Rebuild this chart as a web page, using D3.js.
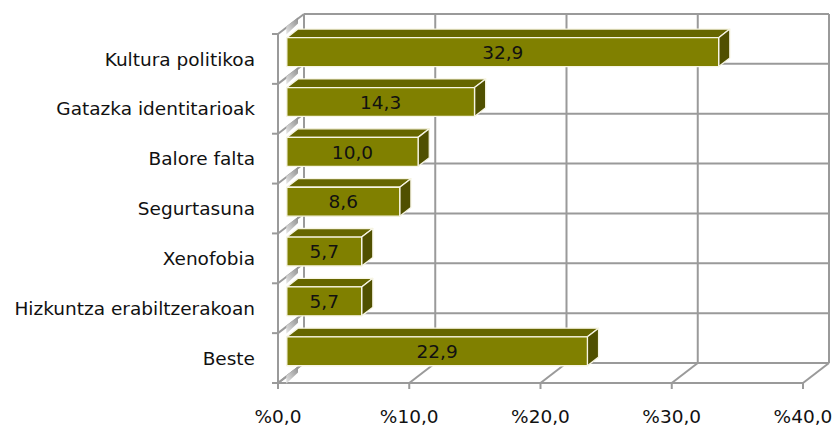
<!DOCTYPE html>
<html>
<head>
<meta charset="utf-8">
<script src="https://cdn.jsdelivr.net/npm/d3@7"></script>
<style>
  html, body { margin: 0; padding: 0; background: #fff; }
  svg text { font-family: "DejaVu Sans", Verdana, sans-serif; fill: #111; }
</style>
</head>
<body>
<svg id="chart" width="836" height="427"></svg>
<script>
// Categories (top to bottom) and their percentages
const categories = [
  "Kultura politikoa",
  "Gatazka identitarioak",
  "Balore falta",
  "Segurtasuna",
  "Xenofobia",
  "Hizkuntza erabiltzerakoan",
  "Beste"
];
const values = [32.9, 14.3, 10.0, 8.6, 5.7, 5.7, 22.9];
const valueLabels = ["32,9", "14,3", "10,0", "8,6", "5,7", "5,7", "22,9"];
const tickValues = [0, 10, 20, 30, 40];
const tickLabels = ["%0,0", "%10,0", "%20,0", "%30,0", "%40,0"];

const svg = d3.select("#chart");

// Front plane scales; depth is an oblique offset toward the back wall
const x = d3.scaleLinear().domain([0, 40]).range([278, 803]);
const y = d3.scaleBand().domain(categories).range([34, 383]);
const DX = 26, DY = -20;
const proj = (v, yy, z) => [x(v) + z * DX, yy + z * DY];

const gridColor = "#9a9a9a";
const gridWidth = 2;
const fontSize = 18.5;

const walls = svg.append("g");
const boundaries = categories.map(c => y(c)).concat([y.range()[1]]);
const yTop = y.range()[0], yBot = y.range()[1];

// Back wall: vertical value gridlines
walls.selectAll("line.bv").data(tickValues).join("line")
  .attr("x1", d => proj(d, yTop, 1)[0]).attr("y1", yTop + DY)
  .attr("x2", d => proj(d, yTop, 1)[0]).attr("y2", yBot + DY)
  .attr("stroke", gridColor).attr("stroke-width", gridWidth);

// Back wall: horizontal category boundaries
walls.selectAll("line.bh").data(boundaries).join("line")
  .attr("x1", proj(0, 0, 1)[0]).attr("y1", d => d + DY)
  .attr("x2", proj(40, 0, 1)[0]).attr("y2", d => d + DY)
  .attr("stroke", gridColor).attr("stroke-width", gridWidth);

// Floor: diagonals at each tick and the front edge
walls.selectAll("line.fd").data(tickValues).join("line")
  .attr("x1", d => proj(d, yBot, 0)[0]).attr("y1", yBot)
  .attr("x2", d => proj(d, yBot, 1)[0]).attr("y2", yBot + DY)
  .attr("stroke", gridColor).attr("stroke-width", gridWidth);
walls.append("line")
  .attr("x1", x(0)).attr("y1", yBot).attr("x2", x(40)).attr("y2", yBot)
  .attr("stroke", gridColor).attr("stroke-width", gridWidth);

// Left wall: front edge and diagonals at category boundaries
walls.append("line")
  .attr("x1", x(0)).attr("y1", yTop).attr("x2", x(0)).attr("y2", yBot)
  .attr("stroke", gridColor).attr("stroke-width", gridWidth);
walls.selectAll("line.ld").data(boundaries).join("line")
  .attr("x1", x(0)).attr("y1", d => d)
  .attr("x2", proj(0, 0, 1)[0]).attr("y2", d => d + DY)
  .attr("stroke", gridColor).attr("stroke-width", gridWidth);

// Shaded strips along the left wall diagonals
const defs = svg.append("defs");
const grad = defs.append("linearGradient").attr("id", "wallShade")
  .attr("x1", "0").attr("y1", "1").attr("x2", "1").attr("y2", "0");
grad.append("stop").attr("offset", "0").attr("stop-color", "#e6e6e6");
grad.append("stop").attr("offset", "1").attr("stop-color", "#8f8f8f");
const z0 = 0.34, z1 = 0.77;
walls.selectAll("polygon.ws").data(boundaries).join("polygon")
  .attr("points", d => {
    const a = proj(0, d, z0 - 0.02), b = proj(0, d, z1);
    return [[a[0], a[1] - 1], [b[0], b[1] - 1], [b[0], b[1] + 5], [a[0], a[1] + 7]]
      .map(p => p.join(",")).join(" ");
  })
  .attr("fill", "url(#wallShade)");

// Tick marks
walls.selectAll("line.tx").data(tickValues).join("line")
  .attr("x1", d => x(d)).attr("y1", yBot).attr("x2", d => x(d)).attr("y2", yBot + 6)
  .attr("stroke", gridColor).attr("stroke-width", gridWidth);
walls.selectAll("line.ty").data(boundaries).join("line")
  .attr("x1", x(0) - 6).attr("y1", d => d).attr("x2", x(0)).attr("y2", d => d)
  .attr("stroke", gridColor).attr("stroke-width", gridWidth);

// Bars
const barFrac = 0.58;
const bars = svg.append("g").selectAll("g.bar")
  .data(categories.map((c, i) => ({ c, v: values[i], label: valueLabels[i] })))
  .join("g");

const edge = "#f7f5e4";
const pts = arr => arr.map(p => p.join(",")).join(" ");
const barTop = d => y(d.c) + y.bandwidth() * (1 - barFrac) / 2;
const barH = y.bandwidth() * barFrac;

bars.append("polygon") // top face
  .attr("points", d => pts([proj(0, barTop(d), z0), proj(d.v, barTop(d), z0),
                            proj(d.v, barTop(d), z1), proj(0, barTop(d), z1)]))
  .attr("fill", "#666600").attr("stroke", edge).attr("stroke-width", 1.3)
  .attr("stroke-linejoin", "round");
bars.append("polygon") // end face
  .attr("points", d => pts([proj(d.v, barTop(d), z0), proj(d.v, barTop(d), z1),
                            proj(d.v, barTop(d) + barH, z1), proj(d.v, barTop(d) + barH, z0)]))
  .attr("fill", "#505000").attr("stroke", edge).attr("stroke-width", 1.3)
  .attr("stroke-linejoin", "round");
bars.append("polygon") // front face
  .attr("points", d => pts([proj(0, barTop(d), z0), proj(d.v, barTop(d), z0),
                            proj(d.v, barTop(d) + barH, z0), proj(0, barTop(d) + barH, z0)]))
  .attr("fill", "#808000").attr("stroke", edge).attr("stroke-width", 1.3)
  .attr("stroke-linejoin", "round");

// Value labels centred on the front face
bars.append("text")
  .attr("x", d => (proj(0, 0, z0)[0] + proj(d.v, 0, z0)[0]) / 2)
  .attr("y", d => proj(0, barTop(d) + barH / 2, z0)[1])
  .attr("dy", "0.36em")
  .attr("text-anchor", "middle")
  .attr("font-size", fontSize)
  .text(d => d.label);

// Category labels
svg.append("g").selectAll("text").data(categories).join("text")
  .attr("x", 255)
  .attr("y", d => y(d) + y.bandwidth() / 2)
  .attr("dy", "0.36em")
  .attr("text-anchor", "end")
  .attr("font-size", fontSize)
  .text(d => d);

// Value axis labels
svg.append("g").selectAll("text").data(tickValues).join("text")
  .attr("x", d => x(d))
  .attr("y", 423)
  .attr("text-anchor", "middle")
  .attr("font-size", fontSize)
  .text((d, i) => tickLabels[i]);
</script>
</body>
</html>
